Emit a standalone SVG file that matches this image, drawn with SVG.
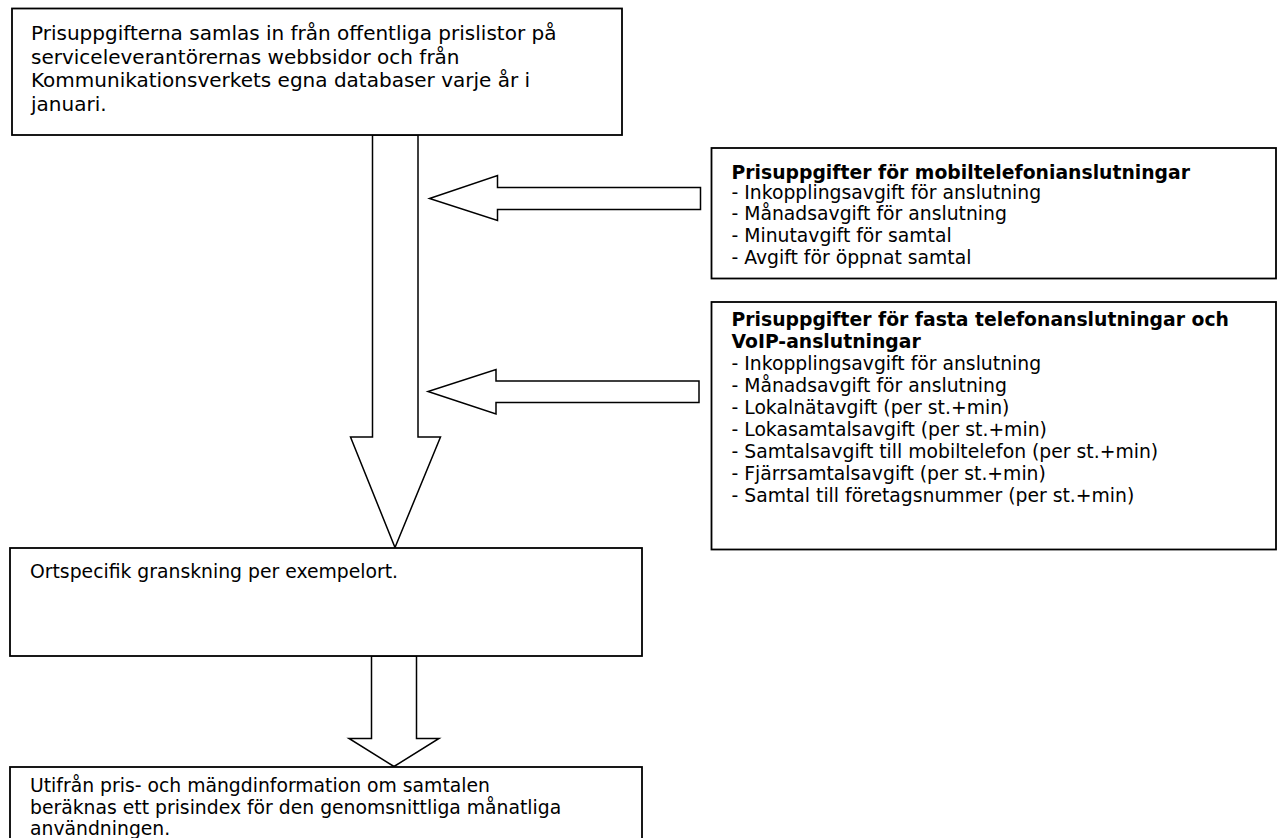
<svg xmlns="http://www.w3.org/2000/svg" width="1279" height="838" viewBox="0 0 1279 838">
<style>
.box{fill:#fff;stroke:#000;stroke-width:1.8}
.arr{fill:#fff;stroke:#000;stroke-width:1.5;stroke-linejoin:miter}
.t{font-family:"DejaVu Sans",Verdana,sans-serif;font-size:20px;fill:#000}
.r{font-family:"DejaVu Sans",Verdana,sans-serif;font-size:18.8px;fill:#000}
.b{font-weight:bold}
</style>
<rect width="1279" height="838" fill="#fff"/>
<g id="connectors">
<polygon class="arr" points="372.5,135 418,135 418,437 440.5,437 395,547.5 350.5,437 372.5,437"/>
<polygon class="arr" points="700.5,187.5 497.5,187.5 497.5,175.5 429.5,198.5 497.5,220.5 497.5,209.5 700.5,209.5"/>
<polygon class="arr" points="699,381 496,381 496,369.5 428,391.5 496,414 496,402.5 699,402.5"/>
<polygon class="arr" points="371.5,656 416.5,656 416.5,738.5 439,738.5 394,766.5 349,738.5 371.5,738.5"/>
</g>
<g id="n-source">
<rect class="box" x="12" y="8.5" width="610" height="126.5"/>
<text class="t" x="31" y="40">Prisuppgifterna samlas in från offentliga prislistor på</text>
<text class="t" x="31" y="63.5">serviceleverantörernas webbsidor och från</text>
<text class="t" x="31" y="87">Kommunikationsverkets egna databaser varje år i</text>
<text class="t" x="31" y="110.5">januari.</text>
</g>
<g id="n-mobile">
<rect class="box" x="711.5" y="148" width="564.5" height="130.5"/>
<text class="r b" x="731.5" y="178.5">Prisuppgifter för mobiltelefonianslutningar</text>
<text class="r" x="731.5" y="198.5">- Inkopplingsavgift för anslutning</text>
<text class="r" x="731.5" y="220">- Månadsavgift för anslutning</text>
<text class="r" x="731.5" y="242">- Minutavgift för samtal</text>
<text class="r" x="731.5" y="264">- Avgift för öppnat samtal</text>
</g>
<g id="n-fixed">
<rect class="box" x="711.5" y="302" width="564.5" height="247.5"/>
<text class="r b" x="731.5" y="326">Prisuppgifter för fasta telefonanslutningar och</text>
<text class="r b" x="731.5" y="348">VoIP-anslutningar</text>
<text class="r" x="731.5" y="370">- Inkopplingsavgift för anslutning</text>
<text class="r" x="731.5" y="392">- Månadsavgift för anslutning</text>
<text class="r" x="731.5" y="414">- Lokalnätavgift (per st.+min)</text>
<text class="r" x="731.5" y="436">- Lokasamtalsavgift (per st.+min)</text>
<text class="r" x="731.5" y="458">- Samtalsavgift till mobiltelefon (per st.+min)</text>
<text class="r" x="731.5" y="480">- Fjärrsamtalsavgift (per st.+min)</text>
<text class="r" x="731.5" y="502">- Samtal till företagsnummer (per st.+min)</text>
</g>
<g id="n-local">
<rect class="box" x="10" y="548" width="632" height="108"/>
<text class="r" x="30" y="578">Ortspecifik granskning per exempelort.</text>
</g>
<g id="n-index">
<rect class="box" x="10" y="767" width="632" height="100"/>
<text class="r" x="30" y="792">Utifrån pris- och mängdinformation om samtalen</text>
<text class="r" x="30" y="813.5">beräknas ett prisindex för den genomsnittliga månatliga</text>
<text class="r" x="30" y="834.5">användningen.</text>
</g>
</svg>
